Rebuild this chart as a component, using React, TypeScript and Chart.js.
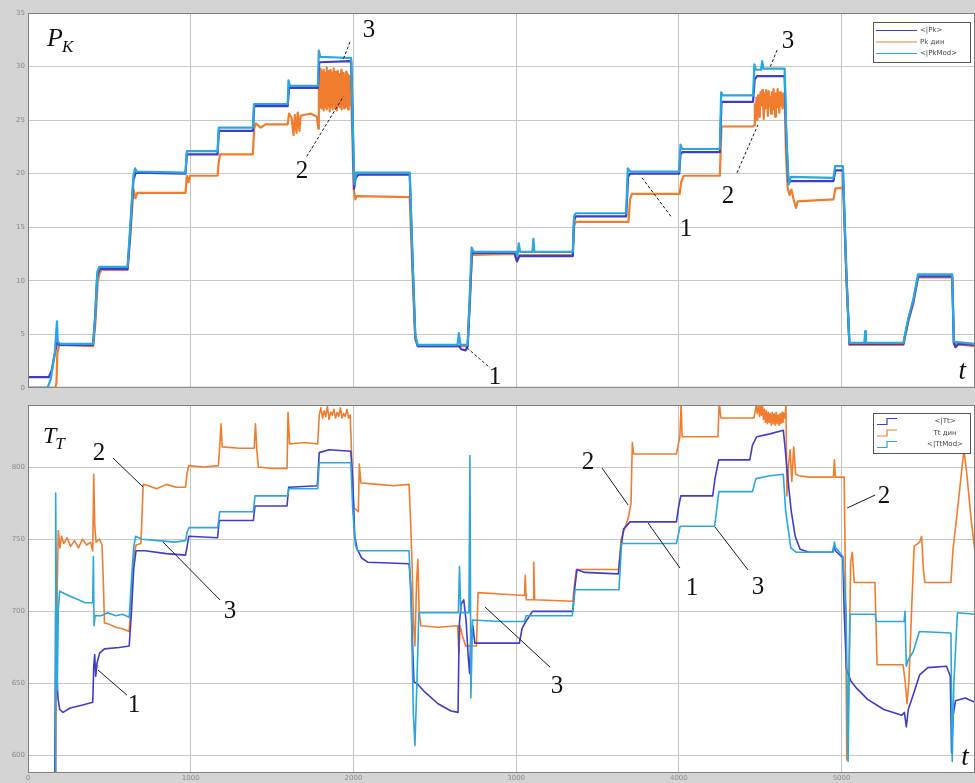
import React, { useEffect, useRef } from "react";
import { Chart, registerables } from "chart.js";

Chart.register(...registerables);

type Pt = [number, number];

// ---------- axes ----------
const xTickValues = [0, 1000, 2000, 3000, 4000, 5000];
const pkTickValues = [0, 5, 10, 15, 20, 25, 30, 35];
const ttTickValues = [600, 650, 700, 750, 800];
const pkSeriesNames = ["<|Pk>", "Pk дин", "<|PkMod>"];
const ttSeriesNames = ["<|Tt>", "Tt дин", "<|TtMod>"];

// ---------- upper panel: P_K ----------
const pkMean: Pt[] = [
  [0, 1.0], [128, 1.0], [145, 1.6], [165, 3.2], [180, 4.3], [195, 4.0], [400, 4.0], [412, 6.5], [425, 10.4], [440, 11.1],
  [612, 11.1], [628, 14.5], [648, 19.4], [662, 20.1], [968, 20.0], [976, 21.8], [1165, 21.8], [1173, 24.0], [1382, 24.0],
  [1390, 26.3], [1596, 26.3], [1604, 28.0], [1782, 28.0], [1790, 30.4], [1986, 30.5], [1996, 24.5], [2004, 18.6],
  [2014, 19.6], [2030, 19.9], [2346, 19.9], [2362, 12.5], [2380, 4.8], [2395, 3.9], [2650, 3.9], [2662, 3.6], [2690, 3.5],
  [2702, 3.9], [2716, 8.5], [2728, 12.6], [2990, 12.6], [3005, 11.8], [3020, 12.3], [3348, 12.3], [3356, 15.6], [3366, 16.0],
  [3676, 16.0], [3688, 19.7], [3700, 20.0], [4002, 20.0], [4010, 21.8], [4020, 22.0], [4252, 22.0], [4262, 26.7], [4456, 26.7],
  [4466, 28.8], [4480, 29.1], [4650, 29.1], [4660, 23.5], [4672, 19.2], [4690, 19.3], [4950, 19.3], [4962, 20.3], [5008, 20.3],
  [5030, 10.5], [5048, 4.1], [5380, 4.1], [5410, 6.3], [5440, 8.0], [5470, 10.4], [5680, 10.4], [5690, 4.2], [5700, 3.8],
  [5720, 4.1], [5820, 4.0],
];

const pkDyn: Pt[] = [
  [0, 0], [168, 0], [175, 0.5], [180, 3.2], [192, 4.0], [400, 3.9], [414, 6], [428, 9.8], [440, 10.7], [452, 11.0], [612, 11.0],
  [628, 14], [648, 18.6], [660, 17.7], [672, 18.2], [968, 18.2], [976, 19.8], [986, 19.2], [996, 19.8], [1165, 19.8],
  [1172, 21.0], [1180, 21.8], [1382, 21.8], [1390, 24.2], [1400, 24.7], [1430, 24.3], [1460, 24.6], [1596, 24.6],
  [1604, 25.6], [1620, 25.2], [1632, 23.6], [1640, 25.5], [1650, 23.8], [1658, 25.7], [1668, 24.0], [1676, 25.4],
  [1700, 25.5], [1740, 25.6], [1776, 25.3], [1784, 24.2],
  [1787.5, 27.5], [1790, 29.6], [1792.5, 26.3], [1795, 29.2], [1797.5, 26.8], [1800, 29.8], [1802.5, 26.1], [1805, 28.9],
  [1807.5, 27.0], [1810, 29.5], [1812.5, 26.4], [1815, 29.7], [1817.5, 25.9], [1820, 29.1], [1822.5, 26.6], [1825, 29.4],
  [1827.5, 26.2], [1830, 28.8], [1832.5, 27.1], [1835, 29.9], [1837.5, 26.0], [1840, 29.3], [1842.5, 26.7], [1845, 28.6],
  [1847.5, 26.3], [1850, 29.6], [1852.5, 25.8], [1855, 29.0], [1857.5, 26.9], [1860, 29.7], [1862.5, 26.2], [1865, 28.9],
  [1867.5, 26.5], [1870, 29.4], [1872.5, 26.0], [1875, 29.2], [1877.5, 27.2], [1880, 29.8], [1882.5, 26.4], [1885, 28.7],
  [1887.5, 26.1], [1890, 29.5], [1892.5, 26.8], [1895, 29.1], [1897.5, 25.9], [1900, 28.8], [1902.5, 26.6], [1905, 29.6],
  [1907.5, 26.3], [1910, 29.0], [1912.5, 27.0], [1915, 29.3], [1917.5, 26.2], [1920, 28.6], [1922.5, 26.7], [1925, 29.7],
  [1927.5, 26.0], [1930, 29.2], [1932.5, 26.5], [1935, 28.9], [1937.5, 26.9], [1940, 29.4], [1942.5, 26.1], [1945, 29.0],
  [1947.5, 26.6], [1950, 28.7], [1952.5, 26.2], [1955, 29.5], [1957.5, 26.8], [1960, 28.8], [1962.5, 26.3], [1965, 29.3],
  [1967.5, 26.0], [1970, 28.9], [1972.5, 26.7], [1975, 29.1], [1977.5, 26.4], [1980, 28.6], [1982.5, 26.9], [1985, 28.4],
  [1992, 24], [2002, 18.5], [2012, 17.6], [2020, 17.9], [2346, 17.8], [2362, 11], [2380, 4.5], [2395, 3.9], [2702, 3.9],
  [2716, 8], [2728, 12.4], [2990, 12.5], [3005, 11.9], [3020, 12.4], [3348, 12.4], [3356, 15.1], [3366, 15.5], [3690, 15.5],
  [3700, 17.6], [3712, 18.1], [4005, 18.1], [4014, 19.2], [4030, 19.8], [4252, 19.8], [4262, 24.4], [4456, 24.4],
  [4462, 24.5], [4467, 26.5], [4472, 25.2], [4477, 27.1], [4482, 25.0], [4487, 27.3], [4492, 26.0], [4497, 25.3],
  [4502, 27.6], [4507, 26.4], [4512, 27.8], [4517, 26.8], [4522, 25.1], [4527, 27.5], [4532, 26.1], [4537, 27.8],
  [4542, 26.9], [4547, 25.4], [4552, 27.7], [4557, 26.3], [4562, 27.2], [4567, 25.6], [4572, 27.6], [4577, 26.0],
  [4582, 27.9], [4587, 26.6], [4592, 25.3], [4597, 27.5], [4602, 26.2], [4607, 27.9], [4612, 26.8], [4617, 25.7],
  [4622, 27.6], [4627, 26.4], [4632, 27.3], [4637, 26.1], [4642, 27.5], [4650, 27.0],
  [4658, 22], [4668, 18.7], [4680, 18.0], [4692, 18.5], [4705, 17.6], [4720, 16.8], [4730, 17.4], [4950, 17.6],
  [4962, 18.6], [5010, 18.7], [5030, 10], [5048, 4.0], [5380, 4.0], [5410, 6.2], [5440, 7.8], [5470, 10.3], [5680, 10.3],
  [5690, 4.1], [5820, 3.9],
];

const pkMod: Pt[] = [
  [0, 0], [120, 0], [140, 0.8], [165, 3.3], [178, 6.2], [183, 4.3], [198, 4.1], [400, 4.1], [414, 6.8], [426, 10.8],
  [438, 11.3], [612, 11.3], [628, 15], [648, 19.8], [658, 20.5], [668, 20.2], [968, 20.1], [976, 22.1], [1165, 22.1],
  [1172, 24.3], [1382, 24.3], [1389, 26.5], [1596, 26.5], [1601, 28.7], [1610, 28.2], [1782, 28.2], [1787, 31.5],
  [1796, 30.9], [1986, 30.8], [1996, 24.5], [2006, 19.0], [2016, 20.1], [2346, 20.1], [2362, 12.5], [2380, 4.9],
  [2395, 4.0], [2640, 4.0], [2648, 5.1], [2658, 4.0], [2702, 4.0], [2716, 9], [2726, 13.1], [2740, 12.7], [2998, 12.7],
  [3008, 12.3], [3016, 13.5], [3024, 12.7], [3100, 12.7], [3106, 13.9], [3112, 12.7], [3348, 12.7], [3356, 16.0],
  [3366, 16.3], [3676, 16.3], [3686, 20.5], [3700, 20.2], [4002, 20.2], [4010, 22.7], [4020, 22.3], [4252, 22.3],
  [4260, 27.6], [4270, 27.3], [4456, 27.3], [4464, 30.2], [4474, 29.7], [4505, 29.7], [4512, 30.5], [4520, 29.8],
  [4650, 29.8], [4660, 24], [4670, 20.5], [4676, 19.0], [4688, 19.7], [4950, 19.6], [4960, 20.7], [5008, 20.7],
  [5030, 10.5], [5048, 4.2], [5140, 4.2], [5145, 5.3], [5150, 4.2], [5380, 4.2], [5410, 6.5], [5440, 8.2], [5470, 10.6],
  [5680, 10.6], [5690, 4.3], [5820, 4.1],
];

// ---------- lower panel: T_T ----------
const ttMean: Pt[] = [
  [165, 588], [170, 700], [176, 660], [184, 640], [195, 632], [215, 630], [260, 633], [330, 635], [398, 637], [404, 662],
  [410, 670], [416, 655], [424, 664], [440, 671], [470, 674], [560, 675], [622, 676], [636, 700], [650, 730], [664, 742],
  [720, 742], [850, 740], [968, 739], [978, 745], [988, 752], [1165, 751], [1175, 763], [1385, 763], [1395, 773],
  [1592, 773], [1602, 786], [1778, 787], [1790, 810], [1850, 812], [1984, 811], [1996, 790], [2008, 752], [2024, 743],
  [2050, 737], [2090, 734], [2342, 733], [2352, 718], [2362, 680], [2372, 651], [2390, 650], [2440, 644], [2520, 636],
  [2600, 631], [2643, 630], [2650, 690], [2662, 705], [2678, 708], [2692, 694], [2706, 668], [2714, 657], [2722, 684],
  [2734, 690], [2746, 678], [2830, 678], [3020, 678], [3036, 688], [3060, 693], [3100, 700], [3348, 700], [3360, 716],
  [3374, 729], [3420, 727], [3628, 726], [3642, 742], [3660, 757], [3700, 762], [3985, 762], [3998, 772], [4012, 780],
  [4208, 780], [4222, 792], [4245, 805], [4436, 805], [4452, 815], [4478, 821], [4560, 823], [4642, 825.5], [4654, 812],
  [4670, 792], [4690, 770], [4715, 752], [4745, 743], [4800, 741], [4945, 741], [4952, 745], [4962, 742], [5008, 737],
  [5016, 700], [5030, 660], [5056, 652], [5090, 647], [5160, 639], [5260, 632], [5370, 628], [5386, 630], [5398, 620],
  [5410, 632], [5440, 642], [5480, 656], [5530, 661], [5645, 662], [5668, 655], [5676, 602], [5686, 628], [5700, 638],
  [5760, 640], [5820, 637],
];

const ttDyn: Pt[] = [
  [170, 588], [174, 650], [180, 720], [186, 756], [196, 744], [206, 752], [220, 747], [240, 751], [262, 745], [285, 749],
  [310, 744], [335, 750], [360, 746], [385, 748], [398, 742], [404, 795], [410, 760], [418, 748], [440, 750], [455, 746],
  [463, 720], [470, 692], [500, 691], [540, 689], [580, 688], [622, 686], [636, 712], [650, 738], [664, 746], [694, 747],
  [702, 770], [708, 788], [740, 787], [790, 785], [850, 788], [910, 786], [968, 786], [978, 796], [988, 801], [1080, 800],
  [1170, 801], [1178, 813], [1186, 830], [1194, 814], [1300, 813], [1390, 813], [1398, 830], [1406, 812], [1416, 800],
  [1500, 799], [1592, 799], [1598, 838], [1608, 816], [1700, 817], [1780, 816],
  [1790, 836], [1800, 841], [1810, 834], [1820, 839], [1830, 835], [1840, 842], [1850, 833], [1860, 838], [1870, 836],
  [1880, 840], [1890, 834], [1900, 838], [1910, 835], [1920, 841], [1930, 834], [1940, 837], [1950, 835], [1960, 840],
  [1970, 834], [1980, 836],
  [1990, 805], [2002, 772], [2030, 769], [2036, 802], [2046, 789], [2150, 788], [2250, 787], [2342, 788], [2352, 760],
  [2362, 727], [2370, 690], [2378, 676], [2388, 720], [2396, 736], [2404, 700], [2414, 690], [2520, 689], [2640, 690],
  [2648, 671], [2656, 690], [2670, 683], [2690, 676], [2730, 676], [2756, 676], [2766, 713], [2900, 712], [3052, 711],
  [3056, 725], [3062, 708], [3104, 708], [3108, 734], [3114, 708], [3348, 707], [3358, 718], [3370, 729], [3630, 729],
  [3645, 750], [3690, 765], [3706, 775], [3714, 817], [3722, 809], [3985, 809], [4006, 821], [4014, 843], [4020, 821],
  [4240, 821], [4248, 845], [4258, 834], [4462, 834],
  [4475, 843], [4482, 837], [4490, 843], [4496, 835], [4502, 842], [4508, 836], [4514, 843], [4520, 833], [4526, 840],
  [4532, 831], [4538, 839], [4544, 830], [4550, 838], [4556, 831], [4562, 837], [4568, 829], [4574, 838], [4580, 830],
  [4586, 837], [4592, 829], [4598, 838], [4604, 830], [4610, 836], [4616, 829], [4622, 837], [4628, 830], [4634, 838],
  [4640, 831], [4646, 837], [4652, 834],
  [4658, 843], [4664, 780], [4674, 801], [4684, 812], [4694, 790], [4706, 814], [4718, 795], [4740, 794], [4800, 793],
  [4950, 793], [4956, 805], [4962, 793], [5016, 793], [5024, 720], [5032, 597], [5042, 640], [5056, 734], [5066, 741],
  [5078, 720], [5205, 720], [5212, 690], [5218, 663], [5378, 663], [5392, 650], [5402, 636], [5414, 652], [5430, 700],
  [5446, 745], [5480, 748], [5492, 752], [5502, 730], [5512, 720], [5672, 720], [5684, 742], [5712, 770], [5752, 812],
  [5770, 795], [5795, 765], [5820, 741],
];

const ttMod: Pt[] = [
  [160, 588], [166, 588], [170, 782], [175, 700], [180, 645], [186, 700], [194, 714], [230, 712], [270, 710], [310, 708],
  [350, 706], [398, 706], [402, 738], [406, 690], [412, 697], [450, 697], [490, 699], [540, 697], [580, 698], [622, 696],
  [636, 722], [650, 745], [662, 752], [700, 750], [800, 749], [900, 748], [968, 749], [978, 755], [990, 758], [1166, 758],
  [1178, 769], [1385, 769], [1395, 780], [1596, 780], [1603, 785], [1780, 785], [1790, 803], [1984, 803], [1996, 770],
  [2012, 746], [2026, 742], [2342, 742], [2356, 700], [2368, 630], [2378, 607], [2390, 650], [2402, 699], [2450, 699],
  [2600, 699], [2645, 699], [2652, 731], [2660, 699], [2710, 699], [2716, 808], [2722, 640], [2732, 694], [2900, 693],
  [3050, 693], [3062, 697], [3345, 697], [3362, 715], [3632, 715], [3648, 747], [3985, 747], [4008, 759], [4220, 759],
  [4246, 783], [4452, 783], [4474, 792], [4560, 794], [4642, 795], [4656, 770], [4688, 744], [4720, 741], [4948, 741],
  [4956, 748], [4964, 744], [5008, 738], [5028, 700], [5040, 596], [5052, 698], [5206, 698], [5214, 693], [5384, 693],
  [5390, 700], [5398, 662], [5408, 666], [5440, 672], [5478, 686], [5672, 685], [5680, 596], [5690, 650], [5712, 699],
  [5820, 698],
];

// ---------- annotations (data coordinates) ----------
type Label = { text: string; x: number; y: number };
type Leader = [number, number, number, number];

const pkNumberLabels: Label[] = [
  { text: "3", x: 2096, y: 33.4 },
  { text: "2", x: 1684, y: 20.25 },
  { text: "1", x: 2870, y: 0.93 },
  { text: "1", x: 4044, y: 14.75 },
  { text: "2", x: 4302, y: 17.83 },
  { text: "3", x: 4671, y: 32.3 },
];
const pkLeaders: Leader[] = [
  [1979, 32.3, 1938, 30.7],
  [1713, 21.6, 1938, 27.2],
  [2698, 3.73, 2839, 1.87],
  [3774, 19.6, 3958, 15.87],
  [4357, 20.07, 4486, 24.55],
  [4604, 31.55, 4561, 29.96],
];
const ttNumberLabels: Label[] = [
  { text: "2", x: 436, y: 809.7 },
  { text: "3", x: 1242, y: 700.2 },
  { text: "1", x: 651, y: 635.1 },
  { text: "2", x: 3442, y: 803.5 },
  { text: "1", x: 4081, y: 716.2 },
  { text: "3", x: 4487, y: 716.9 },
  { text: "3", x: 3251, y: 648.3 },
  { text: "2", x: 5261, y: 779.9 },
];
const ttLeaders: Leader[] = [
  [522, 806.3, 707, 786.2],
  [830, 748, 1180, 707.9],
  [430, 659.4, 608, 642],
  [3528, 799.3, 3688, 773.7],
  [3811, 761.2, 4007, 730],
  [4222, 758.5, 4425, 728.7],
  [2809, 703, 3208, 661.4],
  [5034, 771.6, 5206, 780.6],
];

const MEAN_COLOR = "#3d3dcf";
const DYN_COLOR = "#f07d2e";
const MOD_COLOR = "#2aa7dd";
const SERIF = '"Liberation Serif", "DejaVu Serif", serif';

type OverlayCfg = {
  numbers: Label[];
  leaders: Leader[];
  dash: number[];
  title: { main: string; sub: string; x: number; y: number; size: number; subSize: number };
  tMark: { x: number; y: number };
  legendTop: number;
  stepIcons: boolean;
  centerLegendText: boolean;
};

function makeOverlay(cfg: OverlayCfg) {
  return {
    id: "overlay",
    beforeDraw(chart: any) {
      const { ctx, chartArea: a, width, height } = chart;
      ctx.save();
      ctx.fillStyle = "#d4d4d4";
      ctx.fillRect(0, 0, width, height);
      ctx.fillStyle = "#ffffff";
      ctx.fillRect(a.left, a.top, a.right - a.left, a.bottom - a.top);
      ctx.restore();
    },
    afterDatasetsDraw(chart: any) {
      const { ctx, chartArea: a } = chart;
      const xs = chart.scales.x;
      const ys = chart.scales.y;
      const px = (v: number) => xs.getPixelForValue(v);
      const py = (v: number) => ys.getPixelForValue(v);
      ctx.save();
      ctx.strokeStyle = "#808080";
      ctx.lineWidth = 1;
      ctx.strokeRect(a.left + 0.5, a.top + 0.5, a.right - a.left - 1, a.bottom - a.top - 1);

      ctx.strokeStyle = "#1c1c1c";
      ctx.lineWidth = 1;
      ctx.setLineDash(cfg.dash);
      for (const [x1, y1, x2, y2] of cfg.leaders) {
        ctx.beginPath();
        ctx.moveTo(px(x1), py(y1));
        ctx.lineTo(px(x2), py(y2));
        ctx.stroke();
      }
      ctx.setLineDash([]);

      ctx.fillStyle = "#111111";
      ctx.font = `25px ${SERIF}`;
      ctx.textAlign = "center";
      ctx.textBaseline = "middle";
      for (const l of cfg.numbers) ctx.fillText(l.text, px(l.x), py(l.y));

      ctx.textAlign = "left";
      ctx.textBaseline = "alphabetic";
      ctx.font = `italic ${cfg.title.size}px ${SERIF}`;
      const tx = px(cfg.title.x);
      const ty = py(cfg.title.y);
      ctx.fillText(cfg.title.main, tx, ty);
      const w = ctx.measureText(cfg.title.main).width;
      ctx.font = `italic ${cfg.title.subSize}px ${SERIF}`;
      ctx.fillText(cfg.title.sub, tx + w - 1, ty + 6);

      ctx.font = `italic 27px ${SERIF}`;
      ctx.textAlign = "center";
      ctx.textBaseline = "middle";
      ctx.fillText("t", px(cfg.tMark.x), py(cfg.tMark.y));

      const bx = a.right - 102;
      const by = a.top + cfg.legendTop;
      const bw = 97;
      const bh = 40;
      ctx.fillStyle = "#ffffff";
      ctx.fillRect(bx, by, bw, bh);
      ctx.strokeStyle = "#555555";
      ctx.strokeRect(bx + 0.5, by + 0.5, bw, bh);
      ctx.font = '7px "DejaVu Sans", sans-serif';
      ctx.textBaseline = "middle";
      chart.data.datasets.forEach((ds: any, i: number) => {
        const ry = by + 8.5 + i * 11.5;
        ctx.strokeStyle = ds.borderColor;
        ctx.lineWidth = 1.2;
        ctx.beginPath();
        if (cfg.stepIcons) {
          ctx.moveTo(bx + 4, ry + 3);
          ctx.lineTo(bx + 14, ry + 3);
          ctx.lineTo(bx + 14, ry - 3);
          ctx.lineTo(bx + 24, ry - 3);
        } else {
          ctx.moveTo(bx + 3, ry);
          ctx.lineTo(bx + 44, ry);
        }
        ctx.stroke();
        ctx.fillStyle = "#444444";
        if (cfg.centerLegendText) {
          ctx.textAlign = "center";
          ctx.fillText(ds.label, bx + 72, ry);
        } else {
          ctx.textAlign = "left";
          ctx.fillText(ds.label, bx + 47, ry);
        }
      });
      ctx.restore();
    },
  };
}

function toXY(arr: Pt[]) {
  return arr.map(([x, y]) => ({ x, y }));
}

function buildConfig(opts: {
  series: Pt[][];
  names: string[];
  yMin: number;
  yMax: number;
  yTicks: number[];
  showX: boolean;
  padTop: number;
  xHeight: number;
  lineWidth: number;
  overlay: OverlayCfg;
}): any {
  const colors = [MEAN_COLOR, DYN_COLOR, MOD_COLOR];
  const orders = [2, 3, 1];
  return {
    type: "line",
    data: {
      datasets: opts.series.map((s, i) => ({
        label: opts.names[i],
        data: toXY(s),
        borderColor: colors[i],
        backgroundColor: colors[i],
        borderWidth: opts.lineWidth,
        pointRadius: 0,
        tension: 0,
        fill: false,
        borderJoinStyle: "round",
        order: orders[i],
      })),
    },
    options: {
      animation: false,
      responsive: false,
      devicePixelRatio: 1,
      events: [],
      layout: { padding: { top: opts.padTop, right: 0, left: 0, bottom: 0 } },
      scales: {
        x: {
          type: "linear",
          min: 0,
          max: 5820,
          afterBuildTicks: (s: any) => {
            s.ticks = xTickValues.map((v) => ({ value: v }));
          },
          afterFit: (s: any) => {
            s.height = opts.xHeight;
          },
          ticks: {
            display: opts.showX,
            autoSkip: false,
            maxRotation: 0,
            padding: 1,
            color: "#8a8a8a",
            font: { size: 7, family: "DejaVu Sans" },
            callback: (v: any) => String(v),
          },
          grid: { color: "#c4c4c4", lineWidth: 1, drawTicks: false },
          border: { display: false },
        },
        y: {
          type: "linear",
          min: opts.yMin,
          max: opts.yMax,
          afterBuildTicks: (s: any) => {
            s.ticks = opts.yTicks.map((v) => ({ value: v }));
          },
          afterFit: (s: any) => {
            s.width = 28;
          },
          ticks: {
            padding: 3,
            color: "#8a8a8a",
            font: { size: 7, family: "DejaVu Sans" },
            callback: (v: any) => String(v),
          },
          grid: { color: "#c8c8c8", lineWidth: 1, drawTicks: false },
          border: { display: false },
        },
      },
      plugins: {
        legend: { display: false },
        tooltip: { enabled: false },
      },
    },
    plugins: [makeOverlay(opts.overlay)],
  };
}

export default function App() {
  const topRef = useRef<HTMLCanvasElement>(null);
  const botRef = useRef<HTMLCanvasElement>(null);

  useEffect(() => {
    const top = new Chart(
      topRef.current as HTMLCanvasElement,
      buildConfig({
        series: [pkMean, pkDyn, pkMod],
        names: pkSeriesNames,
        yMin: 0,
        yMax: 35,
        yTicks: pkTickValues,
        showX: false,
        padTop: 13,
        xHeight: 7,
        lineWidth: 2.2,
        overlay: {
          numbers: pkNumberLabels,
          leaders: pkLeaders,
          dash: [3, 2],
          title: { main: "P", sub: "K", x: 117, y: 31.9, size: 26, subSize: 17 },
          tMark: { x: 5741, y: 1.5 },
          legendTop: 9,
          stepIcons: false,
          centerLegendText: false,
        },
      })
    );
    const bottom = new Chart(
      botRef.current as HTMLCanvasElement,
      buildConfig({
        series: [ttMean, ttDyn, ttMod],
        names: ttSeriesNames,
        yMin: 588,
        yMax: 843,
        yTicks: ttTickValues,
        showX: true,
        padTop: 10,
        xHeight: 10,
        lineWidth: 1.6,
        overlay: {
          numbers: ttNumberLabels,
          leaders: ttLeaders,
          dash: [],
          title: { main: "T", sub: "T", x: 92, y: 816.7, size: 24, subSize: 17 },
          tMark: { x: 5759, y: 598.4 },
          legendTop: 8,
          stepIcons: true,
          centerLegendText: true,
        },
      })
    );
    return () => {
      top.destroy();
      bottom.destroy();
    };
  }, []);

  return (
    <div
      style={{
        position: "absolute",
        left: 0,
        top: 0,
        width: 975,
        height: 783,
        background: "#d4d4d4",
        overflow: "hidden",
      }}
    >
      <canvas
        ref={topRef}
        width={975}
        height={395}
        style={{ position: "absolute", left: 0, top: 0, width: 975, height: 395 }}
      />
      <canvas
        ref={botRef}
        width={975}
        height={388}
        style={{ position: "absolute", left: 0, top: 395, width: 975, height: 388 }}
      />
    </div>
  );
}
